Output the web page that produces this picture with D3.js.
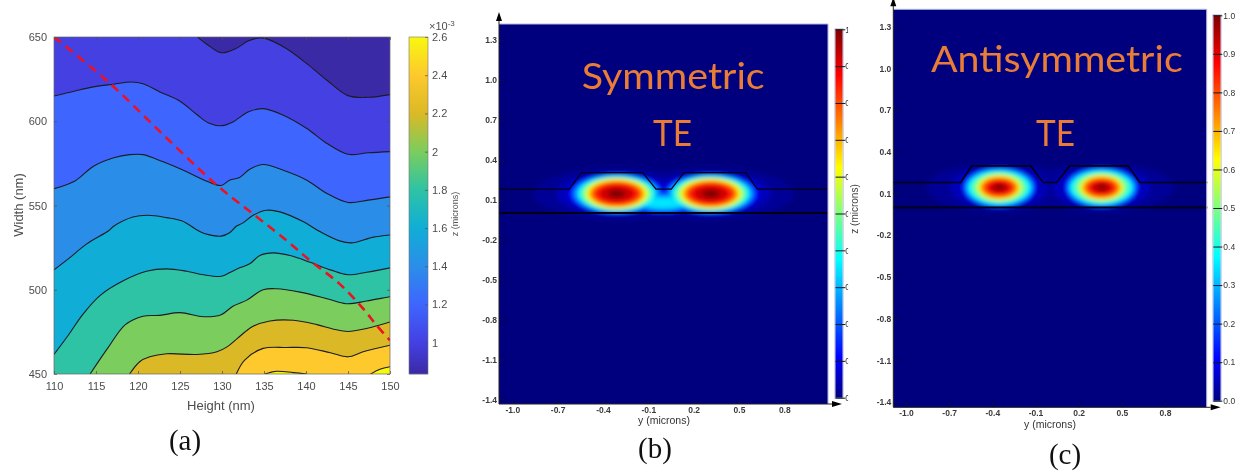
<!DOCTYPE html>
<html lang="en">
<head>
  <meta charset="UTF-8" />
  <title>Contour map and TE mode profiles</title>
  <script src="https://d3js.org/d3.v7.min.js"></script>
  <style>
    html, body { margin: 0; background: #fff; }
    svg { display: block; filter: blur(0.5px); font-family: "Liberation Sans", Arial, sans-serif; }
    .tickA text { font-size: 11px; fill: #4d4d4d; }
    .tickA line { stroke: #4d4d4d; stroke-width: 0.7; }
    .tickM text { font-size: 8.5px; font-weight: bold; fill: #3a3a3a; }
    .tickM line { stroke: #10102a; stroke-width: 0.8; }
    .tickC text { font-size: 8.5px; fill: #333; }
    .tickC line { stroke: #0a1a20; stroke-width: 1; }
    .domain { display: none; }
  </style>
</head>
<body>
  <svg id="chart" width="1238" height="471"></svg>

  <script>
    // (a) contour lines, [height nm, width nm]
    const line1 = [[127.1,650],[128.4,645],[129.9,640.7],[131.7,643.3],[133.1,647.6],[134.5,649.4],[135.5,648.6],[137.7,643],[140.1,634.2],[142.5,624.3],[145,615.2],[147.4,614.2],[150,615.8]];
    const line2 = [[110,615],[112.5,618],[114.7,620.4],[117.1,622],[119.2,623.3],[120.6,622.3],[122.6,617.4],[125,611.9],[127,604],[128.4,599],[130,597.4],[131.3,599.6],[133.1,605.5],[134.9,607.5],[137.3,603.6],[140.1,595.7],[142.5,586.8],[145,580.4],[147.4,581.3],[150,582]];
    const line3 = [[110,560],[112.5,564.6],[114.7,573.3],[117.1,578.3],[119,580.2],[120.6,580.2],[123,575.9],[125.8,570],[128.2,564.4],[129.9,561.9],[130.9,565],[132.1,566.6],[133.3,571.5],[134.9,574.3],[137.3,570.9],[140.1,565],[142.5,557.1],[145,551.8],[147.4,553.2],[150,555.1]];
    const line4 = [[110,511.8],[111.7,518.3],[113.9,527.2],[116.5,535],[117.1,537.7],[119.4,543.2],[121.2,544.2],[123.4,542.8],[125.2,540.9],[127.4,534.4],[128.4,532.7],[129.9,531.8],[130.9,533.8],[131.7,537.7],[132.5,539.7],[133.7,544.2],[135.3,547.2],[136.9,546.2],[139.7,540.3],[141.7,534.4],[144,529],[145.4,527.8],[147.9,531.1],[150,532.5]];
    const line5 = [[110,461.6],[111.7,473],[113.5,485.8],[115.5,496.7],[118.3,505.5],[121,511],[123.4,512.4],[125.8,511],[127.8,508.9],[129.9,508],[131,510.4],[132.1,513],[133.3,515.4],[134.5,520.3],[136.1,521.9],[138.1,520.3],[140.5,516.3],[142.9,511.8],[145,508.9],[147.2,510.4],[150,513]];
    const line6 = [[114.3,450],[116.5,466.1],[118.5,479.3],[120.6,484.3],[122.6,484.8],[125,486.4],[127.8,484],[129.9,485.2],[131.3,490.2],[132.9,493.7],[134.9,500],[136.5,500.6],[139.3,498.6],[142.5,494.7],[144.8,491.7],[147.2,493.3],[150,495.9]];
    const line7 = [[119,450],[120.2,457.3],[121.4,460.2],[123.4,462],[127,461.6],[129.4,463.2],[130.6,466.1],[131.8,471],[133.7,478.3],[135.7,481.5],[138.5,481.9],[141.3,479.3],[143.3,476.6],[145,475.2],[147.2,477],[150,480.9]];
    const line8 = [[131.7,450],[132.7,458.3],[134.9,465.2],[137.7,465.7],[140.1,465.6],[142.9,462.6],[145,460.2],[146.8,463.2],[150,467.1]];
    const line9 = [[135.1,450],[136.5,451.6],[138.5,450.8],[140.1,450]];
    const line10 = [[147.7,450],[148.8,452.8],[150,454.3]];
    const redPath = [[110,650],[116.7,622.3],[123,592],[129.4,562],[133.7,545],[137.5,530],[140.5,517.3],[144,503.5],[146.8,488.8],[148.4,478.9],[150,470]];

    // value of the band under each line, the first is the darkest corner
    const bandValues = [0.84, 1.0, 1.2, 1.4, 1.6, 1.8, 2.0, 2.2, 2.4, 2.6, 2.6];
    const heightTicks = [110,115,120,125,130,135,140,145,150];
    const widthTicks = [450,500,550,600,650];
    const barTicksA = [1,1.2,1.4,1.6,1.8,2,2.2,2.4,2.6];

    // (b) and (c) mode field, one ellipse per field level, microns
    const fieldLevels = [0.02,0.05,0.11,0.2,0.3,0.37,0.45,0.55,0.62,0.7,0.78,0.85,0.92,1.0];
    const symRx = [0.55,0.4,0.32,0.295,0.275,0.254,0.24,0.215,0.2,0.185,0.17,0.15,0.115,0.06];
    const symRz = [0.19,0.165,0.15,0.145,0.138,0.13,0.125,0.118,0.113,0.102,0.093,0.083,0.06,0.03];
    const symCentres = [-0.309, 0.313];
    const bridgeLevels = [0.11,0.2,0.3,0.35];
    const bridgeRx = [0.22,0.18,0.16,0.14];
    const bridgeRz = [0.085,0.07,0.055,0.035];
    const antiRx = [0.5,0.34,0.26,0.245,0.23,0.215,0.195,0.165,0.145,0.135,0.12,0.1,0.075,0.04];
    const antiRz = [0.175,0.155,0.146,0.14,0.13,0.118,0.11,0.098,0.09,0.08,0.07,0.06,0.042,0.02];
    const antiCentres = [-0.352, 0.359];

    // waveguide outline, [y, z] microns
    const ridgeSym = [[-1.088,0.18],[-0.623,0.18],[-0.541,0.303],[-0.137,0.303],[-0.049,0.18],[0.052,0.18],[0.136,0.303],[0.545,0.303],[0.622,0.18],[1.089,0.18]];
    const ridgeAnti = [[-1.088,0.179],[-0.62,0.179],[-0.544,0.299],[-0.134,0.299],[-0.047,0.179],[0.047,0.179],[0.139,0.299],[0.544,0.299],[0.625,0.179],[1.094,0.179]];

    const modeTicksY = [-1.4,-1.1,-0.8,-0.5,-0.2,0.1,0.4,0.7,1.0,1.3];
    const modeTicksX = [-1.0,-0.7,-0.4,-0.1,0.2,0.5,0.8];
    const barTicksM = [0,0.1,0.2,0.3,0.4,0.5,0.6,0.7,0.8,0.9,1.0];

    const svg = d3.select("#chart");
    const defs = svg.append("defs");

    const parula = d3.scaleLinear()
        .domain([0.84,1.0,1.2,1.4,1.6,1.8,2.0,2.2,2.4,2.6])
        .range(["#3b2aa6","#4440e2","#3e66fe","#2a8ee9","#10aed6","#2ec3a5","#7bcd5d","#dbb926","#fdc92c","#f8f80f"]);

    const jet = d3.scaleLinear()
        .domain([0,0.11,0.375,0.5,0.625,0.875,1])
        .range(["#00007f","#0000ff","#00ffff","#7fff7f","#ffff00","#ff0000","#7f0000"]);

    /* ---------- panel (a) ---------- */
    const x = d3.scaleLinear().domain([110,150]).range([54,390]);
    const y = d3.scaleLinear().domain([450,650]).range([374,37]);

    const bandArea = d3.area()
        .x(d => x(d[0])).y1(d => y(d[1])).y0(y(450))
        .curve(d3.curveCatmullRom);
    const contourLine = d3.line()
        .x(d => x(d[0])).y(d => y(d[1]))
        .curve(d3.curveCatmullRom);

    defs.append("clipPath").attr("id", "mapClip").append("rect")
        .attr("x", x(110)).attr("y", y(650))
        .attr("width", x(150) - x(110)).attr("height", y(450) - y(650));
    const map = svg.append("g").attr("clip-path", "url(#mapClip)");

    map.append("rect")
        .attr("x", x(110)).attr("y", y(650))
        .attr("width", x(150) - x(110)).attr("height", y(450) - y(650))
        .attr("fill", parula(bandValues[0]));

    const lines = [line1,line2,line3,line4,line5,line6,line7,line8,line9,line10];
    lines.forEach((pts, i) => {
      // first line starts on the top edge, so its fill also takes the left corner
      const fillPts = i === 0 ? [[110,650]].concat(pts) : pts;
      map.append("path")
          .attr("d", bandArea(fillPts))
          .attr("fill", parula(bandValues[i + 1]));
    });
    lines.forEach(pts => {
      map.append("path")
          .attr("d", contourLine(pts))
          .attr("fill", "none")
          .attr("stroke", "#1c1c24")
          .attr("stroke-width", 1.1);
    });

    map.append("path")
        .attr("d", contourLine(redPath))
        .attr("fill", "none")
        .attr("stroke", "#ee1122")
        .attr("stroke-width", 2.6)
        .attr("stroke-dasharray", "9,6");

    svg.append("g").attr("class", "tickA")
        .attr("transform", `translate(0,${y(450)})`)
        .call(d3.axisBottom(x).tickValues(heightTicks).tickSize(-3).tickPadding(8).tickFormat(d3.format("d")));
    svg.append("g").attr("class", "tickA")
        .attr("transform", `translate(${x(110)},0)`)
        .call(d3.axisLeft(y).tickValues(widthTicks).tickSize(-3).tickPadding(7).tickFormat(d3.format("d")));
    svg.append("g").attr("class", "tickA")
        .attr("transform", `translate(0,${y(650)})`)
        .call(d3.axisTop(x).tickValues(heightTicks).tickSize(-3).tickFormat(""));
    svg.append("g").attr("class", "tickA")
        .attr("transform", `translate(${x(150)},0)`)
        .call(d3.axisRight(y).tickValues(widthTicks).tickSize(-3).tickFormat(""));
    svg.append("rect")
        .attr("x", x(110)).attr("y", y(650))
        .attr("width", x(150) - x(110)).attr("height", y(450) - y(650))
        .attr("fill", "none").attr("stroke", "#666").attr("stroke-width", 0.7);

    svg.append("text").attr("x", 221).attr("y", 410).attr("text-anchor", "middle")
        .attr("font-size", 13).attr("fill", "#4d4d4d").text("Height (nm)");
    svg.append("text").attr("transform", "translate(23,205) rotate(-90)").attr("text-anchor", "middle")
        .attr("font-size", 13).attr("fill", "#4d4d4d").text("Width (nm)");

    // colour bar (a)
    const barA = d3.scaleLinear().domain([0.836,2.6]).range([374,37]);
    svg.append("g").selectAll("rect")
        .data(d3.range(37, 374))
        .enter().append("rect")
          .attr("x", 409).attr("y", d => d).attr("width", 19).attr("height", 1.2)
          .attr("fill", d => parula(barA.invert(d + 0.5)));
    svg.append("g").attr("class", "tickA")
        .attr("transform", "translate(428,0)")
        .call(d3.axisRight(barA).tickValues(barTicksA).tickSize(-3).tickPadding(4).tickFormat(d3.format(".1~f")));
    svg.append("rect").attr("x", 409).attr("y", 37).attr("width", 19).attr("height", 337)
        .attr("fill", "none").attr("stroke", "#777").attr("stroke-width", 0.6);

    const expo = svg.append("text").attr("x", 429).attr("y", 30).attr("font-size", 11).attr("fill", "#4d4d4d");
    expo.append("tspan").text("×10");
    expo.append("tspan").attr("dy", -4).attr("font-size", 8).text("-3");
    svg.append("text").attr("transform", "translate(458,214) rotate(-90)").attr("text-anchor", "middle")
        .attr("font-size", 9).attr("fill", "#555").text("z (microns)");

    /* ---------- panels (b) and (c) ---------- */
    function drawMode(o) {
      const mx = d3.scaleLinear().domain([-1, 0.8]).range([o.x0, o.x08]);
      const mz = d3.scaleLinear().domain([-1.4, 1.3]).range([o.yn14, o.y13]);
      const g = svg.append("g");

      g.append("rect")
          .attr("x", o.left).attr("y", o.top)
          .attr("width", o.right - o.left).attr("height", o.bottom - o.top)
          .attr("fill", "#00007f");

      defs.append("clipPath").attr("id", o.id + "Clip").append("rect")
          .attr("x", o.left).attr("y", o.top)
          .attr("width", o.right - o.left).attr("height", o.bottom - o.top);
      defs.append("filter").attr("id", o.id + "Soft")
          .attr("filterUnits", "userSpaceOnUse")
          .attr("x", o.left - 10).attr("y", o.top - 10)
          .attr("width", o.right - o.left + 20).attr("height", o.bottom - o.top + 20)
          .append("feGaussianBlur").attr("stdDeviation", 2.2);

      const blobs = o.blobs.slice().sort((a, b) => a.level - b.level);
      g.append("g").attr("clip-path", `url(#${o.id}Clip)`)
        .append("g").attr("filter", `url(#${o.id}Soft)`)
        .selectAll("ellipse")
        .data(blobs)
        .enter().append("ellipse")
          .attr("cx", d => mx(d.cy))
          .attr("cy", d => mz(d.cz))
          .attr("rx", d => Math.abs(mx(d.rx) - mx(0)))
          .attr("ry", d => Math.abs(mz(d.rz) - mz(0)))
          .attr("fill", d => jet(d.level));

      // outline of the guide
      const guide = d3.line().x(d => mx(d[0])).y(d => mz(d[1]));
      g.append("path").attr("d", guide(o.ridge))
          .attr("fill", "none").attr("stroke", "#000014").attr("stroke-width", o.ridgeWidth);
      g.append("path").attr("d", guide([[o.ridge[0][0], 0],[o.ridge[o.ridge.length - 1][0], 0]]))
          .attr("fill", "none").attr("stroke", "#000014").attr("stroke-width", 2);

      // axes
      g.append("g").attr("class", "tickM")
          .attr("transform", `translate(0,${o.bottom})`)
          .call(d3.axisBottom(mx).tickValues(modeTicksX).tickSize(-5).tickPadding(o.xPad).tickFormat(d => d.toFixed(1)));
      g.append("g").attr("class", "tickM")
          .attr("transform", `translate(${o.left},0)`)
          .call(d3.axisLeft(mz).tickValues(modeTicksY).tickSize(-6).tickPadding(2).tickFormat(d => d.toFixed(1)));

      g.append("line").attr("x1", o.left).attr("x2", o.right).attr("y1", o.top).attr("y2", o.top)
          .attr("stroke", "#b4b4dc");
      g.append("line").attr("x1", o.right).attr("x2", o.right).attr("y1", o.top).attr("y2", o.bottom)
          .attr("stroke", "#b4b4dc");
      g.append("line").attr("x1", o.left).attr("x2", o.left).attr("y1", o.top - 6).attr("y2", o.bottom)
          .attr("stroke", "#222").attr("stroke-width", 1);
      g.append("line").attr("x1", o.left).attr("x2", o.right + 4).attr("y1", o.bottom).attr("y2", o.bottom)
          .attr("stroke", "#222").attr("stroke-width", 1);
      g.append("path")
          .attr("d", d3.line()([[o.left - 3, o.top - 3],[o.left, o.top - 12],[o.left + 3, o.top - 3]]) + "Z")
          .attr("fill", "#000");
      g.append("path")
          .attr("d", d3.line()([[o.right + 4, o.bottom - 3],[o.right + 14, o.bottom],[o.right + 4, o.bottom + 3]]) + "Z")
          .attr("fill", "#000");

      g.append("text").attr("x", o.xLabelX).attr("y", o.xLabelY).attr("text-anchor", "middle")
          .attr("font-size", 10.5).attr("fill", "#333").text("y (microns)");

      // colour bar
      const bar = d3.scaleLinear().domain([0, 1]).range([o.barBottom, o.barTop]);
      g.append("g").selectAll("rect")
          .data(d3.range(Math.floor(o.barTop), Math.ceil(o.barBottom)))
          .enter().append("rect")
            .attr("x", o.barX).attr("y", d => d).attr("width", 7.4).attr("height", 1.2)
            .attr("fill", d => jet(Math.max(0, Math.min(1, bar.invert(d + 0.5)))));
      g.append("rect").attr("x", o.barX - 0.5).attr("y", o.barTop - 0.5)
          .attr("width", 8.4).attr("height", o.barBottom - o.barTop + 1)
          .attr("fill", "none").attr("stroke", "#c4c4e4").attr("stroke-width", 1);

      const tickG = g.append("g").attr("class", "tickC")
          .attr("transform", `translate(${o.barX},0)`)
          .call(d3.axisRight(bar).tickValues(barTicksM).tickSize(o.barTick).tickPadding(o.barPad).tickFormat(d => d.toFixed(1)));
      if (o.labelClip) {
        // (b) has its bar labels cut off by the panel edge
        defs.append("clipPath").attr("id", o.id + "Bar").append("rect")
            .attr("x", 0).attr("y", 0).attr("width", o.labelClip).attr("height", 471);
        tickG.attr("clip-path", `url(#${o.id}Bar)`);
      }

      if (o.zLabelX) {
        g.append("text").attr("transform", `translate(${o.zLabelX},${o.zLabelY}) rotate(-90)`)
            .attr("text-anchor", "middle").attr("font-size", 10).attr("fill", "#444").text("z (microns)");
      }

      // big orange captions
      o.titles.forEach(t => {
        g.append("text").attr("x", t.x).attr("y", t.y)
            .attr("textLength", t.w).attr("lengthAdjust", "spacingAndGlyphs")
            .attr("font-family", "Lato, sans-serif").attr("font-size", 37)
            .attr("fill", "#e97d35").text(t.s);
      });
    }

    function lobes(levels, rx, rz, centres, cz) {
      const out = [];
      centres.forEach(c => levels.forEach((level, i) => {
        out.push({level: level, cy: c, cz: cz, rx: rx[i], rz: rz[i]});
      }));
      return out;
    }

    drawMode({
      id: "sym", left: 499, right: 828, top: 24, bottom: 404,
      x0: 512.3, x08: 784.3, yn14: 399.3, y13: 40,
      xPad: 3, xLabelX: 664, xLabelY: 424, ridge: ridgeSym, ridgeWidth: 1.2,
      barX: 835.3, barTop: 29.3, barBottom: 397.7, barTick: 10, barPad: 0, labelClip: 12.8,
      zLabelX: 858, zLabelY: 209,
      blobs: lobes(fieldLevels, symRx, symRz, symCentres, 0.145)
          .concat(lobes(bridgeLevels, bridgeRx, bridgeRz, [0], 0.075)),
      titles: [{s: "Symmetric", x: 581.7, y: 89.3, w: 183}, {s: "TE", x: 653, y: 146, w: 39}]
    });

    drawMode({
      id: "anti", left: 893.3, right: 1206.7, top: 9.3, bottom: 407.3,
      x0: 906, x08: 1165, yn14: 402, y13: 26.7,
      xPad: 3, xLabelX: 1050, xLabelY: 428, ridge: ridgeAnti, ridgeWidth: 1.6,
      barX: 1213.3, barTop: 15.3, barBottom: 400.7, barTick: 9, barPad: 1, labelClip: 0,
      zLabelX: 0, zLabelY: 0,
      blobs: lobes(fieldLevels, antiRx, antiRz, antiCentres, 0.143),
      titles: [{s: "Antisymmetric", x: 931, y: 71.7, w: 251.7}, {s: "TE", x: 1036, y: 146, w: 39}]
    });

    // panel letters
    [["(a)",185,450],["(b)",655,458],["(c)",1065,464]].forEach(c => {
      svg.append("text").attr("x", c[1]).attr("y", c[2]).attr("text-anchor", "middle")
          .attr("font-family", "'Liberation Serif', serif").attr("font-size", 29)
          .attr("fill", "#111").text(c[0]);
    });
  </script>
</body>
</html>
